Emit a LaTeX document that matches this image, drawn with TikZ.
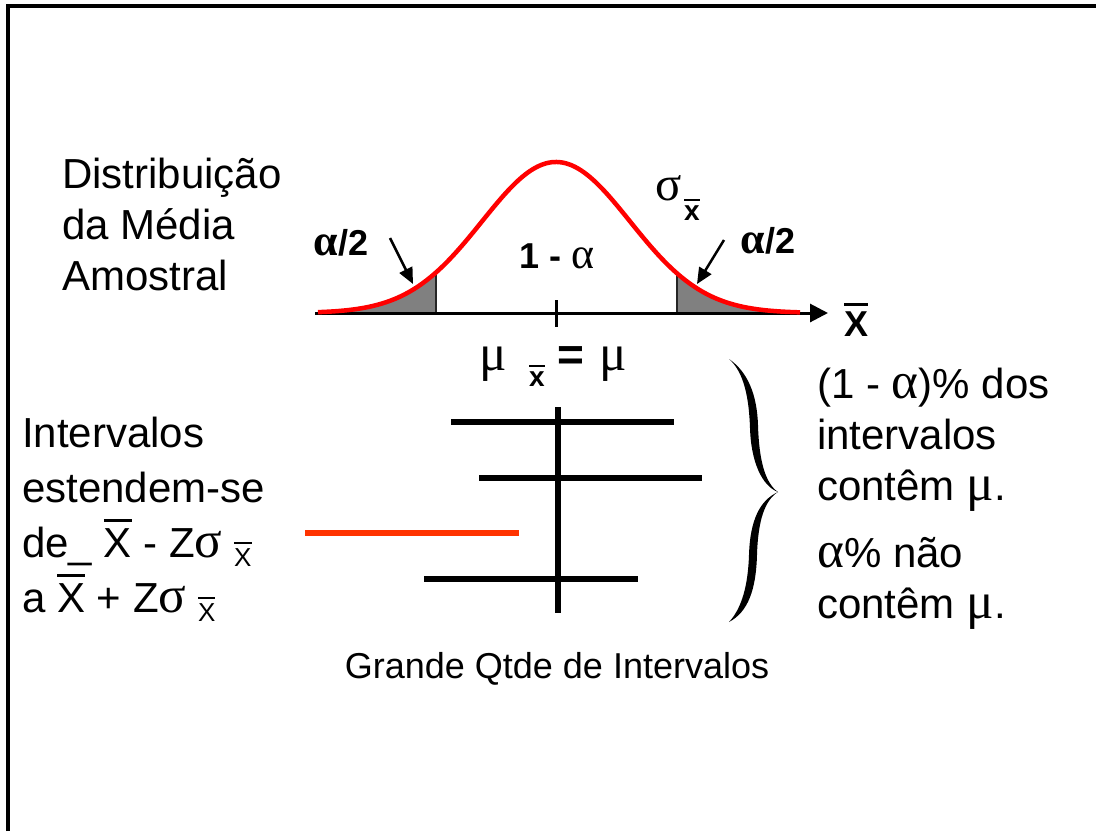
\documentclass[tikz,border=0pt]{standalone}
\usepackage{fontspec}
\usepackage{graphicx}
\setmainfont{Liberation Sans}
\newfontfamily\grk[Scale=1.22]{Liberation Serif}
\usepackage{tikz}
\usetikzlibrary{arrows.meta}

\definecolor{tailgray}{HTML}{808080}
\definecolor{intred}{HTML}{FF3300}

% bar over a letter
\newcommand{\ovbar}[1]{\setbox0\hbox{#1}\rlap{\rule[\dimexpr\ht0+0.15em\relax]{\wd0}{0.07em}}\box0\relax}
% density of the mean
\newcommand{\gauss}[1]{313-151*exp(-((#1-556)/74)*((#1-556)/74)/2)}

\begin{document}
\begin{tikzpicture}[x=1pt, y=-1pt,
    txt/.style={font=\fontsize{42}{50}\selectfont, inner sep=0pt, anchor=base west},
    lbl/.style={font=\fontsize{36}{40}\selectfont\bfseries, inner sep=0pt, anchor=base},
    subx/.style={font=\fontsize{28}{30}\selectfont\bfseries, inner sep=0pt, anchor=base},
    greek/.style={font=\fontsize{42}{44}\selectfont\grk, inner sep=0pt, anchor=base},
    interval/.style={line width=6pt},
    pointer/.style={line width=2.5pt, -{Triangle[length=16pt,width=14pt]}}]

\useasboundingbox (0,0) rectangle (1096,831);

% slide frame
\draw[line width=4pt] (8,831) -- (8,6) -- (1096,6);

% tails of the distribution
\fill[tailgray] plot[domain=318:436, samples=40] (\x,{\gauss{\x}}) -- (436,313) -- (318,313) -- cycle;
\fill[tailgray] plot[domain=677:795, samples=40] (\x,{\gauss{\x}}) -- (795,313) -- (677,313) -- cycle;
\draw[line width=2.5pt, black!85] (436,313) -- (436,{\gauss{436}});
\draw[line width=2.5pt, black!85] (677,313) -- (677,{\gauss{677}});

% axis
\coordinate (o) at (315,313);
\coordinate (xend) at (828,313);
\draw[line width=3pt, -{Triangle[length=18pt,width=18pt]}] (o) -- (xend);
\draw[line width=3pt] (556,300) -- (556,327);

% curve
\draw[red, line width=4.5pt] plot[domain=318:800, samples=100, smooth] (\x,{\gauss{\x}});

% labels on the curve
\node[lbl] (alphaL) at (341,255) {{\grk α}/2};
\node[lbl] (conf) at (557,268) {1 - {\grk\mdseries α}};
\node[lbl] (alphaR) at (768,253) {{\grk α}/2};
\node[greek, font=\fontsize{40}{40}\selectfont\grk] (sig) at (669,200) {σ};
\node[subx] (sigx) at (692,220) {\ovbar{x}};
\node[lbl] (xbar) at (856,336) {\ovbar{X}};

\coordinate (tipL) at (413,284);
\coordinate (tipR) at (697,284);
\draw[pointer] (390,238) -- (tipL);
\draw[pointer] (724,240) -- (tipR);

% mean
\node[greek] (mu1) at (493,370) {μ};
\node[subx] (mux) at (537,386) {\ovbar{x}};
\node[lbl, font=\fontsize{46}{46}\selectfont\bfseries] (eq) at (571,370) {=};
\node[greek] (mu2) at (613,370) {μ};

% intervals
\draw[interval] (558,407) -- (558,613);
\draw[interval] (451,422) -- (674,422);
\draw[interval] (479,478) -- (702,478);
\draw[interval, intred] (305,533) -- (519,533);
\draw[interval] (424,579) -- (638,579);

% brace
\fill (729,359) .. controls (748,372) and (757,395) .. (758,425)
      .. controls (759,460) and (765,483) .. (778,492)
      .. controls (762,486) and (751,462) .. (750,428)
      .. controls (749,398) and (744,372) .. (729,359) -- cycle;
\fill (778,492) .. controls (765,500) and (758,520) .. (757,555)
      .. controls (756,590) and (748,612) .. (729,622)
      .. controls (742,608) and (748,585) .. (749,555)
      .. controls (750,520) and (760,500) .. (778,492) -- cycle;

% texts
\node[txt] (dist1) at (62,188) {Distribuição};
\node[txt] (dist2) at (62,239) {da Média};
\node[txt] (dist3) at (62,290) {Amostral};

\node[txt] (int1) at (22,447) {Intervalos};
\node[txt] (int2) at (22,502) {estendem-se};
\node[txt] (int3) at (22,557) {de\_ \ovbar{X} - Z{\grk σ} \raisebox{-9pt}{\fontsize{26}{26}\selectfont\ovbar{X}}};
\node[txt] (int4) at (22,612) {a \ovbar{X} + Z{\grk σ} \raisebox{-9pt}{\fontsize{26}{26}\selectfont\ovbar{X}}};

\node[txt] (cont1) at (817,398) {(1 - {\grk α})\% dos};
\node[txt] (cont2) at (817,449) {intervalos};
\node[txt] (cont3) at (817,500) {contêm {\grk μ}.};
\node[txt] (nao1) at (817,567) {{\grk α}\% não};
\node[txt] (nao2) at (817,618) {contêm {\grk μ}.};

\node[font=\fontsize{36}{40}\selectfont, inner sep=0pt, anchor=base] (qtde) at (557,678) {Grande Qtde de Intervalos};

\end{tikzpicture}
\end{document}
